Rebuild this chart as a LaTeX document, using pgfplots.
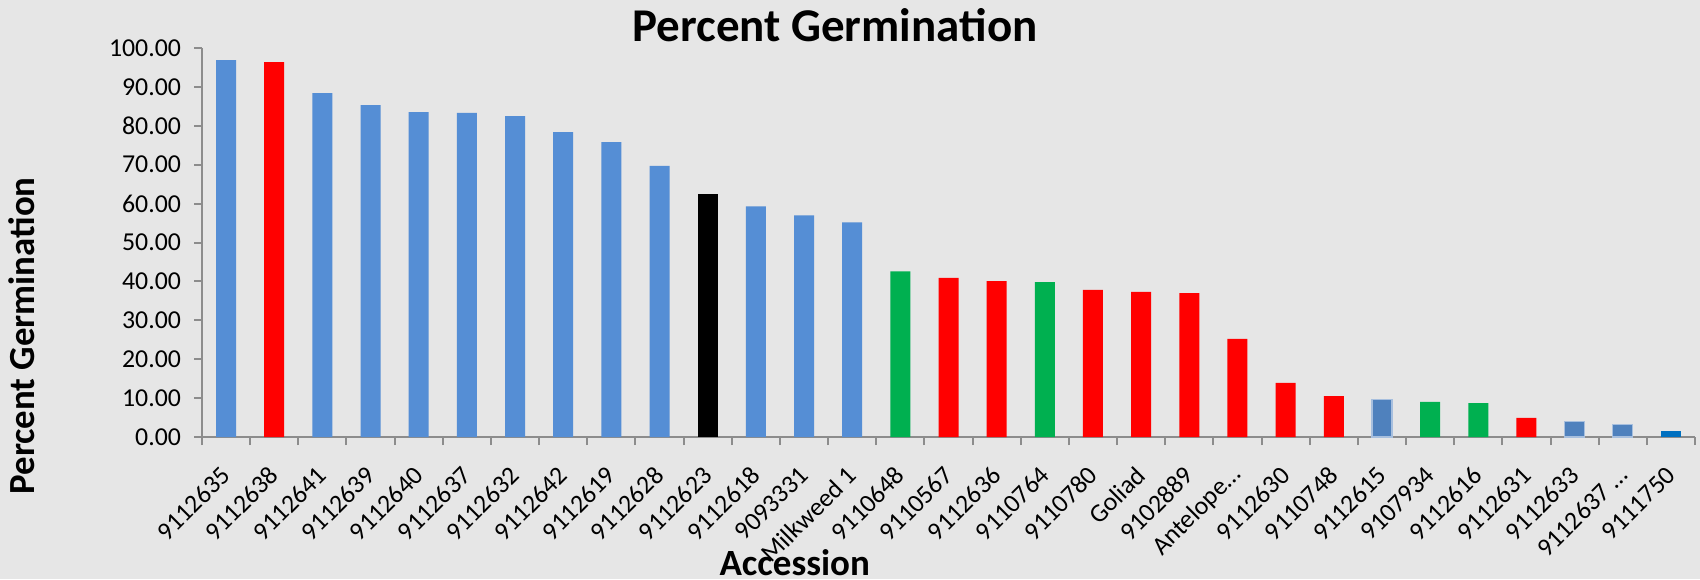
\documentclass[border=0pt]{standalone}
\usepackage{fontspec}
\setmainfont{Carlito}
\usepackage{pgfplots}
\pgfplotsset{compat=1.18}

\definecolor{bg}{HTML}{E6E6E6}
\definecolor{barblue}{HTML}{558ED5}
\definecolor{barred}{HTML}{FF0000}
\definecolor{bargreen}{HTML}{00B050}
\definecolor{barsteel}{HTML}{4F81BD}
\definecolor{steeledge}{HTML}{A7BFDE}
\definecolor{bardark}{HTML}{0070C0}
\definecolor{axisgray}{HTML}{8C8C8C}

\newcommand{\tl}{\fontsize{12.9}{15}\selectfont}

\begin{document}
\begin{tikzpicture}
  \useasboundingbox (0,0) rectangle (850pt,289.5pt);
  \fill[bg] (0,0) rectangle (850pt,289.5pt);
  \begin{axis}[
      at={(101pt,71pt)}, anchor=south west,
      scale only axis,
      width=746.5pt, height=194.5pt,
      ybar, bar width=10pt,
      xmin=-0.5, xmax=30.5,
      ymin=0, ymax=100,
      axis x line*=bottom, axis y line*=left,
      axis line style={axisgray, line width=1pt},
      tick style={axisgray, line width=1pt},
      tick align=outside, major tick length=4pt,
      xtick={-0.5,0.5,...,30.5},
      x tick label as interval,
      xticklabels={\tl 9112635,\tl 9112638,\tl 9112641,\tl 9112639,\tl 9112640,\tl 9112637,\tl 9112632,\tl 9112642,\tl 9112619,\tl 9112628,\tl 9112623,\tl 9112618,\tl 9093331,\tl Milkweed 1,\tl 9110648,\tl 9110567,\tl 9112636,\tl 9110764,\tl 9110780,\tl Goliad,\tl 9102889,\tl Antelope…,\tl 9112630,\tl 9110748,\tl 9112615,\tl 9107934,\tl 9112616,\tl 9112631,\tl 9112633,\tl 9112637 …,\tl 9111750},
      x tick label style={anchor=east, rotate=45, inner sep=0pt, font=\tl},
      xticklabel shift=13pt,
      ytick={0,10,...,100},
      y tick label style={font=\tl, xshift=-3pt,
        /pgf/number format/.cd, fixed, fixed zerofill, precision=2, assume math mode=true},
      title={Percent Germination},
      title style={at={(axis description cs:0.424,0.9846)}, anchor=base,
        font=\fontsize{23.5}{28}\selectfont\bfseries},
      xlabel={Accession},
      xlabel style={at={(axis description cs:0.397,-0.357)}, anchor=base,
        font=\fontsize{18.5}{22}\selectfont\bfseries},
      ylabel={Percent Germination},
      ylabel style={at={(axis description cs:-0.1209,0.26)}, anchor=center,
        font=\fontsize{18.4}{22}\selectfont\bfseries},
    ]
    % blue accessions
    \addplot[fill=barblue, draw=none, bar shift=0pt] coordinates {
        (0,96.9) (2,88.4) (3,85.3) (4,83.5) (5,83.3) (6,82.5) (7,78.4)
        (8,75.8) (9,69.7) (11,59.3) (12,57.0) (13,55.2)
      };
    % red
    \addplot[fill=barred, draw=none, bar shift=0pt] coordinates {
        (1,96.4) (15,40.9) (16,40.1) (18,37.8) (19,37.3) (20,37.0)
        (21,25.2) (22,13.9) (23,10.5) (27,4.9)
      };
    % black
    \addplot[fill=black, draw=none, bar shift=0pt] coordinates {(10,62.5)};
    % green
    \addplot[fill=bargreen, draw=none, bar shift=0pt] coordinates {
        (14,42.6) (17,39.8) (25,9.0) (26,8.7)
      };
    % steel blue, light edge
    \addplot[fill=barsteel, draw=steeledge, line width=0.6pt, bar shift=0pt] coordinates {
        (24,9.7) (28,3.9) (29,3.3)
      };
    % darker blue
    \addplot[fill=bardark, draw=none, bar shift=0pt] coordinates {(30,1.5)};
  \end{axis}
\end{tikzpicture}
\end{document}
